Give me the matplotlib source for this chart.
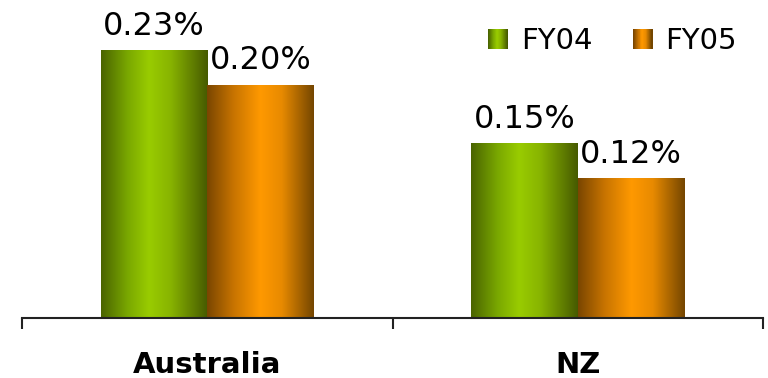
import matplotlib
matplotlib.use('Agg')
import matplotlib.pyplot as plt
import numpy as np
from matplotlib.colors import LinearSegmentedColormap
from matplotlib.legend_handler import HandlerBase
from matplotlib.patches import Rectangle

# データ
regions = ['Australia', 'NZ']
series = ['FY04', 'FY05']
fy04 = [0.23, 0.15]
fy05 = [0.20, 0.12]

# 横方向のグラデーション（左右が暗く中央が明るい）
green_cmap = LinearSegmentedColormap.from_list(
    'green', [(0.0, '#4a6400'), (0.25, '#7aa800'), (0.45, '#99cc00'),
              (0.65, '#88b400'), (1.0, '#465a00')])
orange_cmap = LinearSegmentedColormap.from_list(
    'orange', [(0.0, '#7a4600'), (0.25, '#c87400'), (0.5, '#ff9900'),
               (0.7, '#e88a00'), (1.0, '#744600')])
cmaps = [green_cmap, orange_cmap]
grad = np.linspace(0, 1, 256).reshape(1, -1)


class GradientHandler(HandlerBase):
    """凡例のマーカーにもグラデーションを描く"""
    def __init__(self, cmap):
        super().__init__()
        self.cmap = cmap

    def create_artists(self, legend, orig_handle, xdescent, ydescent,
                       width, height, fontsize, trans):
        n = 20
        size = height * 0.95
        x0 = -xdescent + (width - size)
        y0 = -ydescent + (height - size) / 2
        artists = []
        for i in range(n):
            r = Rectangle((x0 + i * size / n, y0), size / n + 0.3, size,
                          facecolor=self.cmap(i / (n - 1)), edgecolor='none',
                          transform=trans)
            artists.append(r)
        return artists


fig = plt.figure(figsize=(7.68, 3.78), dpi=100)
ax = fig.add_axes([22 / 768, 60 / 378, 741 / 768, 291 / 378])

x = np.arange(len(regions))
w = 0.288
for i, vals in enumerate([fy04, fy05]):
    b = ax.bar(x + (i - 0.5) * w, vals, w, color='none', edgecolor='none')
    for rect, v in zip(b, vals):
        x0, y0 = rect.get_x(), rect.get_y()
        im = ax.imshow(grad, cmap=cmaps[i], aspect='auto', interpolation='bilinear',
                       extent=[x0, x0 + rect.get_width(), y0, y0 + rect.get_height()],
                       zorder=2)
        im.set_clip_path(rect)
        ax.text(x0 + rect.get_width() / 2, v + 0.0075, f'{v:.2f}%',
                ha='center', va='bottom', fontsize=23, color='black', zorder=3)

ax.set_xlim(-0.5, 1.5)
ax.set_ylim(0, 0.25)

# 軸の体裁
for s in ['top', 'right', 'left']:
    ax.spines[s].set_visible(False)
ax.spines['bottom'].set_linewidth(1.5)
ax.spines['bottom'].set_color('#222222')
ax.set_yticks([])
ax.set_xticks([-0.5, 0.5, 1.5])
ax.set_xticklabels([])
ax.tick_params(axis='x', direction='out', length=8, width=1.5, color='#222222')
for xi, name in zip(x, regions):
    ax.text(xi, -0.047, name, ha='center', va='baseline', fontsize=21,
            fontweight='bold', clip_on=False)

handles = [Rectangle((0, 0), 1, 1) for _ in series]
ax.legend(handles, series, loc='upper right', bbox_to_anchor=(1.0, 1.09),
          frameon=False, ncol=2, fontsize=21, handlelength=0.8, handleheight=0.7,
          handletextpad=0.45, columnspacing=1.25,
          handler_map={handles[0]: GradientHandler(green_cmap),
                       handles[1]: GradientHandler(orange_cmap)})

fig.savefig('out.png', dpi=100)
